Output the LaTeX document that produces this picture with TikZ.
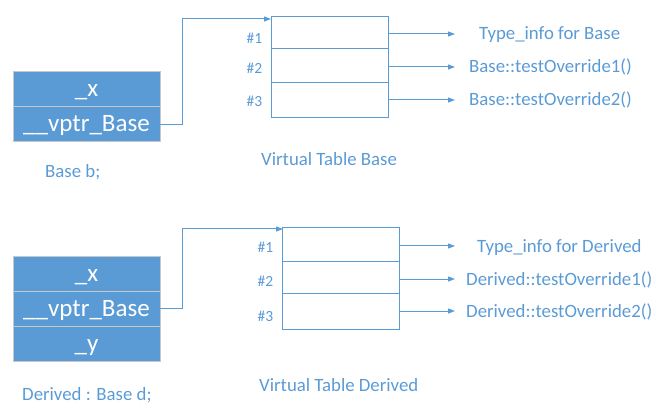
\documentclass[tikz,border=0pt]{standalone}
\usepackage{fontspec}
\setmainfont{Carlito}
\usetikzlibrary{arrows.meta}
\definecolor{ofblue}{HTML}{5B9BD5}
\definecolor{rowline}{HTML}{C8C8C8}
\begin{document}
\begin{tikzpicture}[x=1pt,y=-1pt,
  objrow/.style={draw=rowline, line width=1pt, fill=ofblue, text=white,
    minimum width=147pt, minimum height=35pt, inner sep=0pt, outer sep=0pt,
    font=\fontsize{25}{30}\selectfont, text height=17.5pt, text depth=2.5pt},
  vrow/.style={draw=ofblue, line width=1pt, minimum width=117pt,
    inner sep=0pt, outer sep=0pt},
  lbl/.style={text=ofblue, font=\fontsize{18.8}{22}\selectfont, inner sep=0pt},
  num/.style={text=ofblue, font=\fontsize{15.5}{18}\selectfont, inner sep=0pt, anchor=base east},
  conn/.style={draw=ofblue, line width=1pt},
  arr/.style={conn, -{Triangle[length=7pt,width=5pt]}}
]
\useasboundingbox (0,0) rectangle (672,414);

% ---------- Base ----------
\node[objrow] (bx) at (86.5,89.5) {\_x};
\node[objrow] (bv) at (86.5,124.5) {\_\_vptr\_Base};
\node[lbl, anchor=base west] (bl) at (45,178) {Base b;};

\node[vrow, minimum height=32pt] (t1) at (329.5,33) {};
\node[vrow, minimum height=34pt] (t2) at (329.5,66) {};
\node[vrow, minimum height=35pt] (t3) at (329.5,100.5) {};
\node[num] (n1) at (262.5,44) {\#1};
\node[num] (n2) at (262.5,74) {\#2};
\node[num] (n3) at (262.5,107) {\#3};
\node[lbl, anchor=base west] (vtb) at (261,166) {Virtual Table Base};

\coordinate (bin) at (271,19);
\draw[arr] (bv.east) -- (182,124.5) |- (bin);

\coordinate (e1) at (455,34);
\coordinate (e2) at (455,67);
\coordinate (e3) at (455,100);
\draw[arr] (t1.east |- e1) -- (e1);
\draw[arr] (t2.east |- e2) -- (e2);
\draw[arr] (t3.east |- e3) -- (e3);
\node[lbl, anchor=base west] (r1) at (479,40) {Type\_info for Base};
\node[lbl, anchor=base west] (r2) at (469,73) {Base::testOverride1()};
\node[lbl, anchor=base west] (r3) at (469,106) {Base::testOverride2()};

% ---------- Derived ----------
\node[objrow] (dx) at (86.5,273.5) {\_x};
\node[objrow] (dv) at (86.5,308.5) {\_\_vptr\_Base};
\node[objrow] (dy) at (86.5,343.5) {\_y};
\node[lbl, anchor=base west] (dl) at (22,400) {Derived : Base d;};

\node[vrow, minimum height=33pt] (u1) at (341,244.5) {};
\node[vrow, minimum height=32pt] (u2) at (341,277) {};
\node[vrow, minimum height=36pt] (u3) at (341,311) {};
\node[num] (m1) at (273.5,252) {\#1};
\node[num] (m2) at (273.5,287) {\#2};
\node[num] (m3) at (273.5,321) {\#3};
\node[lbl, anchor=base west] (vtd) at (259,391) {Virtual Table Derived};

\coordinate (din) at (283,229);
\draw[arr] (dv.east) -- (182,308.5) |- (din);

\coordinate (f1) at (455,246);
\coordinate (f2) at (455,279);
\coordinate (f3) at (455,311);
\draw[arr] (u1.east |- f1) -- (f1);
\draw[arr] (u2.east |- f2) -- (f2);
\draw[arr] (u3.east |- f3) -- (f3);
\node[lbl, anchor=base west] (s1) at (477,252) {Type\_info for Derived};
\node[lbl, anchor=base west] (s2) at (466,285) {Derived::testOverride1()};
\node[lbl, anchor=base west] (s3) at (466,317) {Derived::testOverride2()};
\end{tikzpicture}
\end{document}
